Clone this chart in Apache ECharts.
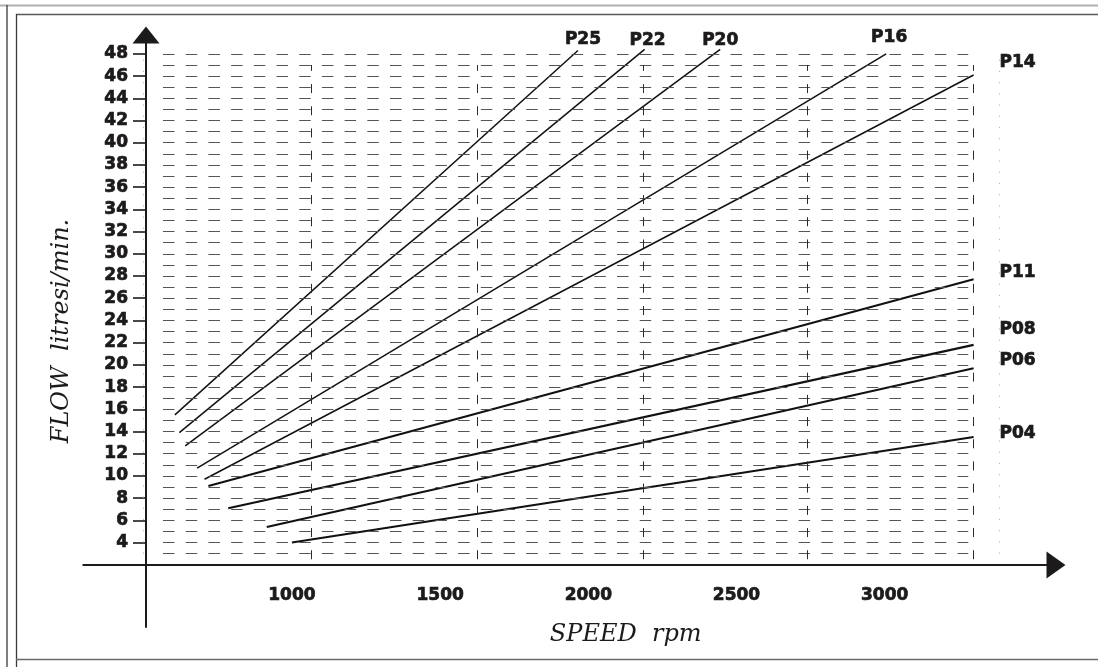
<!DOCTYPE html>
<html>
<head>
<meta charset="utf-8">
<script src="https://cdn.jsdelivr.net/npm/echarts@6/dist/echarts.min.js"></script>
<style>
  html, body { margin: 0; padding: 0; background: #ffffff; }
  #chart { width: 1098px; height: 667px; }
</style>
</head>
<body>
<div id="chart"></div>
<script>
// Pump models, each drawn as a straight flow line: [speed rpm, flow l/min]
const pumpNames = ['P25', 'P22', 'P20', 'P16', 'P14', 'P11', 'P08', 'P06', 'P04'];
const lineStart = [[605, 15.5], [620, 13.9], [640, 12.7], [680, 10.7], [705, 9.7], [718, 9.1], [785, 7.1], [915, 5.4], [1000, 4.0]];
const lineEnd = [[1965, 48.3], [2190, 48.4], [2445, 48.4], [3005, 48.0], [3300, 46.1], [3300, 27.7], [3300, 21.8], [3300, 19.7], [3300, 13.5]];

// Axis tick labels
const speedTicks = [1000, 1500, 2000, 2500, 3000];
const flowTicks = [4, 6, 8, 10, 12, 14, 16, 18, 20, 22, 24, 26, 28, 30, 32, 34, 36, 38, 40, 42, 44, 46, 48];

// Guide lines of the dashed chart grid
const flowGuides = [3, 4, 5, 6, 7, 8, 9, 10, 11, 12, 13, 14, 15, 16, 17, 18, 19, 20, 21, 22, 23, 24, 25,
  26, 27, 28, 29, 30, 31, 32, 33, 34, 35, 36, 37, 38, 39, 40, 41, 42, 43, 44, 45, 46, 47, 48];
const speedGuides = [1065, 1625, 2185, 2740, 3300];
const speedDotted = [497, 3387];

// Styling
const INK = '#1c1a1b';
const tickFont = {
  fontFamily: 'DejaVu Sans', fontWeight: 'bold', fontSize: 17, color: INK,
  textBorderColor: INK, textBorderWidth: 0.7
};
const titleFont = { fontFamily: 'DejaVu Serif', fontStyle: 'italic', fontSize: 24, color: INK };
const heavyLines = ['P11', 'P08', 'P06', 'P04'];
const nameOffset = {
  P25: [5, -11], P22: [3, -9], P20: [0, -9], P16: [3, -16],
  P14: [44, -12], P11: [44, -7], P08: [44, -15], P06: [44, -8], P04: [44, -3]
};

const chart = echarts.init(document.getElementById('chart'), null, { renderer: 'canvas' });

const guideLines = [];
flowGuides.forEach(v => {
  guideLines.push([
    { coord: [565, v], lineStyle: { color: '#555555', width: 1, type: [11.5, 11.2] } },
    { coord: [3282, v] }
  ]);
});
speedGuides.forEach(s => {
  guideLines.push([
    { coord: [s, 2.5], lineStyle: { color: '#2a2a2a', width: 1, type: [9, 13.2] } },
    { coord: [s, 47] }
  ]);
});
speedDotted.forEach(s => {
  guideLines.push([
    { coord: [s, 3], lineStyle: { color: '#b5b5b5', width: 1, type: [1.2, 10] } },
    { coord: [s, 48] }
  ]);
});

const series = [{
  type: 'line',
  name: 'grid',
  data: [],
  silent: true,
  z: 1,
  markLine: {
    silent: true,
    animation: false,
    symbol: ['none', 'none'],
    label: { show: false },
    data: guideLines
  }
}];

pumpNames.forEach((name, i) => {
  series.push({
    type: 'line',
    name: name,
    data: [lineStart[i], lineEnd[i]],
    showSymbol: false,
    silent: true,
    z: 3,
    lineStyle: { color: '#111111', width: heavyLines.includes(name) ? 2.1 : 1.5 },
    markPoint: {
      silent: true,
      animation: false,
      symbol: 'circle',
      symbolSize: 1,
      itemStyle: { color: 'rgba(0,0,0,0)' },
      data: [{
        coord: lineEnd[i],
        label: Object.assign({
          show: true,
          position: 'inside',
          offset: nameOffset[name],
          formatter: name
        }, tickFont)
      }]
    }
  });
});

chart.setOption({
  animation: false,
  backgroundColor: '#ffffff',
  grid: { left: 83.3, top: 35, right: 42, bottom: 40, containLabel: false, outerBoundsMode: 'none' },
  xAxis: {
    type: 'value',
    min: 296,
    max: 3578,
    offset: -62,
    name: 'SPEED  rpm',
    nameLocation: 'middle',
    nameGap: 58,
    nameTextStyle: Object.assign({ padding: [0, 0, 0, 112] }, titleFont),
    axisLine: {
      onZero: false,
      symbol: ['none', 'triangle'],
      symbolSize: [27, 19],
      lineStyle: { color: INK, width: 2 }
    },
    axisTick: { show: false },
    splitLine: { show: false },
    axisLabel: Object.assign({
      customValues: speedTicks,
      margin: 22,
      formatter: v => String(v)
    }, tickFont)
  },
  yAxis: {
    type: 'value',
    min: -3.6,
    max: 49.7,
    offset: -62.7,
    name: 'FLOW  litresi/min.',
    nameLocation: 'middle',
    nameRotate: 90,
    nameGap: 72,
    nameTextStyle: titleFont,
    axisLine: {
      onZero: false,
      symbol: ['none', 'triangle'],
      symbolSize: [27, 17],
      lineStyle: { color: INK, width: 2 }
    },
    axisTick: { show: true, customValues: flowTicks, length: 13, lineStyle: { color: INK, width: 1.6 } },
    splitLine: { show: false },
    axisLabel: Object.assign({
      customValues: flowTicks,
      margin: 18,
      padding: [0, 0, 8, 0],
      formatter: v => String(v)
    }, tickFont)
  },
  graphic: [
    { type: 'line', silent: true, shape: { x1: 0, y1: 5.5, x2: 1098, y2: 5.5 }, style: { stroke: '#b0b0b0', lineWidth: 2 } },
    { type: 'line', silent: true, shape: { x1: 16, y1: 14.5, x2: 1098, y2: 14.5 }, style: { stroke: '#5a5a5a', lineWidth: 1.3 } },
    { type: 'line', silent: true, shape: { x1: 7, y1: 5, x2: 7, y2: 667 }, style: { stroke: '#3a3a3a', lineWidth: 1.3 } },
    { type: 'line', silent: true, shape: { x1: 16.5, y1: 14, x2: 16.5, y2: 667 }, style: { stroke: '#3a3a3a', lineWidth: 1.3 } },
    { type: 'line', silent: true, shape: { x1: 16, y1: 659.5, x2: 1098, y2: 659.5 }, style: { stroke: '#6a6a6a', lineWidth: 1.3 } }
  ],
  series: series
});
</script>
</body>
</html>
